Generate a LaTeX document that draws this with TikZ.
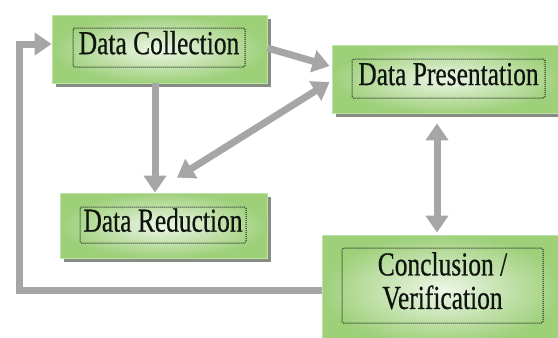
\documentclass[tikz,border=0pt]{standalone}
\usepackage{fontspec}
\usepackage{graphicx}
\setmainfont{Liberation Serif}
\newfontfamily\boxfont[FakeBold=0.6]{Liberation Serif}
\usetikzlibrary{arrows.meta,shadows,calc}
\definecolor{edgegreen}{RGB}{158,208,122}
\definecolor{midgreen}{RGB}{238,246,232}
\definecolor{linegreen}{RGB}{190,226,165}
\definecolor{arrowgray}{RGB}{166,166,166}
\definecolor{shadowgray}{RGB}{135,140,130}
\definecolor{txt}{RGB}{15,20,15}
\newcommand{\boxtext}[1]{\scalebox{0.76}[1]{\begin{tabular}{@{}c@{}}#1\end{tabular}}}
\tikzset{
  outerbox/.style={rectangle, inner sep=0pt, shading=radial, inner color=midgreen,
    outer color=edgegreen, draw=linegreen, line width=0.8pt,
    drop shadow={shadow xshift=3.5pt, shadow yshift=-4pt, fill=shadowgray, opacity=1}},
  innerbox/.style={rectangle, inner sep=0pt, draw=black!90, dash pattern=on 1pt off 1pt, line width=1pt,
    rounded corners=1.5pt, font=\boxfont\fontsize{33.5}{33}\selectfont, text=txt, align=center},
  conn/.style={draw=arrowgray, line width=7pt},
  tipend/.style={-{Triangle[length=17pt,width=22pt]}},
  tipboth/.style={{Triangle[length=17pt,width=22pt]}-{Triangle[length=17pt,width=22pt]}},
}
\begin{document}
\begin{tikzpicture}[x=1pt,y=-1pt]
\useasboundingbox (0,0) rectangle (558,338);
% outer boxes
\node[outerbox, minimum width=215pt, minimum height=68pt] (DC) at (159.5,49) {};
\node[outerbox, minimum width=230pt, minimum height=68pt] (DP) at (447,79) {};
\node[outerbox, minimum width=207pt, minimum height=65pt] (DR) at (163.5,225.5) {};
\node[outerbox, minimum width=240pt, minimum height=110pt] (CV) at (442,290) {};
% inner dotted boxes with text
\node[innerbox, minimum width=172pt, minimum height=39pt] (DCt) at (159,47.5) {\boxtext{Data Collection}};
\node[innerbox, minimum width=193pt, minimum height=39pt] (DPt) at (448.5,78.5) {\boxtext{Data Presentation}};
\node[innerbox, minimum width=166pt, minimum height=36pt] (DRt) at (163,225) {\boxtext{Data Reduction}};
\node[innerbox, minimum width=201pt, minimum height=75pt] (CVt) at (442.5,285.5) {\boxtext{Conclusion /\\Verification}};
% connectors
\coordinate (loopx) at (19,0);
\draw[conn, tipend] (CV.west) -- (CV.west -| loopx) |- ([yshift=5pt]DC.west);
\draw[conn, tipend] ([xshift=-4.5pt]DC.south) -- ([xshift=-4.5pt]DC.south |- DR.north);
\draw[conn, tipend] ([yshift=1pt]DC.east) -- ($(DP.west)+(-2,-13)$);
\draw[conn, tipboth] ($(DR.north)+(13.5,-15)$) -- ($(DP.west)+(-2,3)$);
\draw[conn, tipboth] ([xshift=-10pt,yshift=-10pt]DP.south) -- ([xshift=-10pt,yshift=2pt]DP.south |- CV.north);
\end{tikzpicture}
\end{document}
